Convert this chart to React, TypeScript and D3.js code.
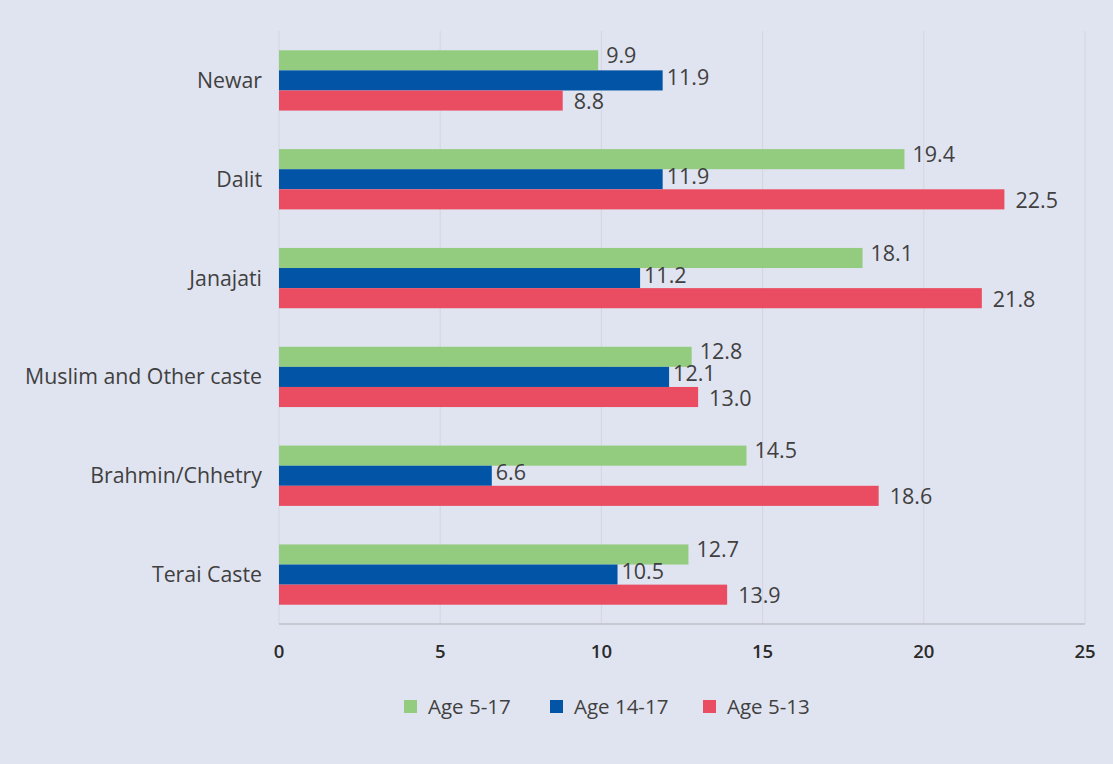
import React from "react";
import * as d3 from "d3";

const categories = ["Newar", "Dalit", "Janajati", "Muslim and Other caste", "Brahmin/Chhetry", "Terai Caste"];
const seriesNames = ["Age 5-17", "Age 14-17", "Age 5-13"];
const age517 = [9.9, 19.4, 18.1, 12.8, 14.5, 12.7];
const age1417 = [11.9, 11.9, 11.2, 12.1, 6.6, 10.5];
const age513 = [8.8, 22.5, 21.8, 13.0, 18.6, 13.9];
const xTicks = [0, 5, 10, 15, 20, 25];

const colors = ["#93CC7F", "#0254A6", "#EA4D61"];
const labelDx = [8, 4, 11];
const labelDy = [-5, -3, 1];

export default function App() {
  const W = 1113, H = 764;
  const left = 279, right = 1085, top = 31, bottom = 624;
  const x = d3.scaleLinear().domain([0, 25]).range([left, right]);
  const y = d3.scaleBand<string>().domain(categories).range([top, bottom]).paddingInner(0.39).paddingOuter(0.195);
  const inner = d3.scaleBand<string>().domain(seriesNames).range([0, y.bandwidth()]).padding(0);
  const series = [age517, age1417, age513];
  const font = "'Open Sans', sans-serif";
  const textColor = "#404040";
  const legendX = [404, 550, 703];

  return (
    <svg width={W} height={H} style={{ position: "absolute", left: 0, top: 0 }} fontFamily={font}>
      <rect x={0} y={0} width={W} height={H} fill="#E0E4F0" />
      {xTicks.map((t) => (
        <line key={"g" + t} x1={x(t)} x2={x(t)} y1={top} y2={bottom} stroke="#D3D6DE" strokeWidth={1} />
      ))}
      <line x1={left} x2={right} y1={bottom} y2={bottom} stroke="#BFC2C9" strokeWidth={1.5} />
      {categories.map((c, i) => (
        <g key={c}>
          <text x={262} y={(y(c) ?? 0) + y.bandwidth() / 2} dy="0.35em" textAnchor="end" fontSize={21.3} fill={textColor}>
            {c}
          </text>
          {series.map((s, k) => {
            const by = (y(c) ?? 0) + (inner(seriesNames[k]) ?? 0);
            const bh = inner.bandwidth();
            return (
              <g key={k}>
                <rect x={x(0)} y={by} width={x(s[i]) - x(0)} height={bh} fill={colors[k]} />
                <text x={x(s[i]) + labelDx[k]} y={by + bh / 2 + labelDy[k]} dy="0.35em" fontSize={21.5} fill={textColor}>
                  {s[i].toFixed(1)}
                </text>
              </g>
            );
          })}
        </g>
      ))}
      {xTicks.map((t) => (
        <text key={"t" + t} x={x(t)} y={652} dy="0.35em" textAnchor="middle" fontSize={18.5} fill="#2a2a2a" fontWeight={600}>
          {t}
        </text>
      ))}
      {seriesNames.map((n, k) => (
        <g key={n}>
          <rect x={legendX[k]} y={700} width={13} height={13} fill={colors[k]} />
          <text x={legendX[k] + 24} y={706.5} dy="0.35em" fontSize={20.5} fill={textColor}>
            {n}
          </text>
        </g>
      ))}
    </svg>
  );
}
